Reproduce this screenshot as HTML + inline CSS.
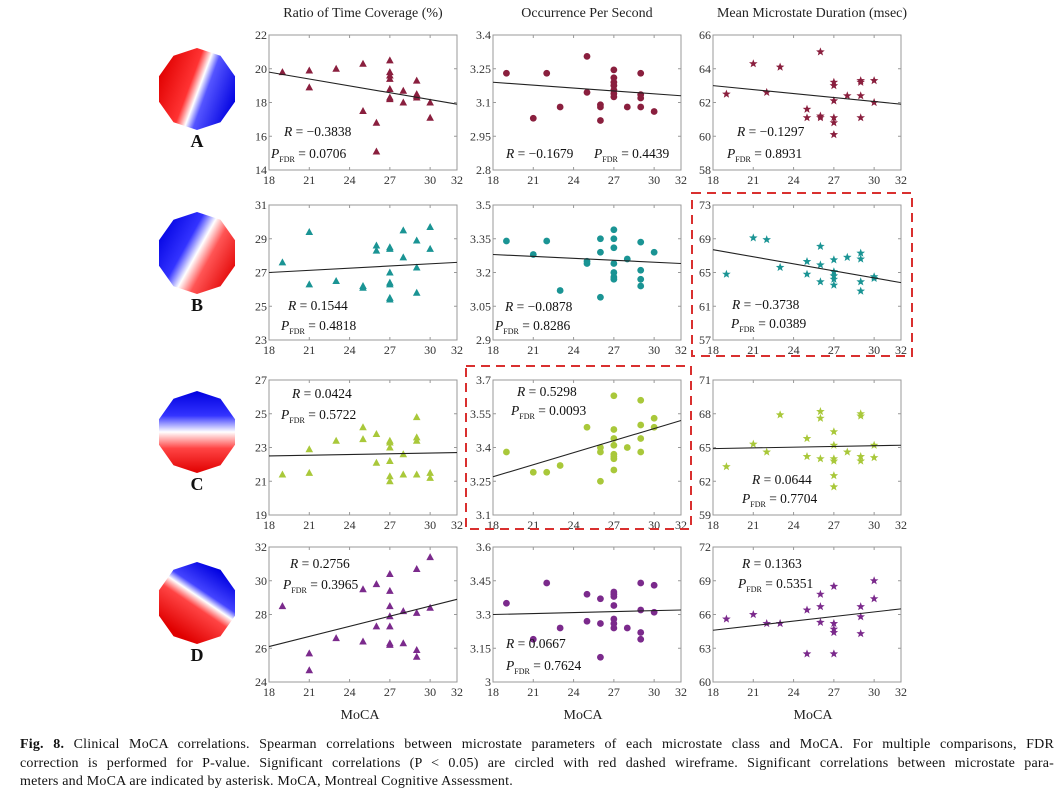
<!DOCTYPE html>
<html><head><meta charset="utf-8"><style>
html,body{margin:0;padding:0;background:#fff;}
svg{display:block;font-family:"Liberation Serif",serif;}
#cap{position:absolute;left:20px;top:736px;width:1034px;font-family:"Liberation Serif",serif;font-size:14px;letter-spacing:0.2px;line-height:18.5px;color:#111;}
#cap div{white-space:nowrap;}
#cap .j{text-align:justify;text-align-last:justify;}
</style></head><body>
<svg id="fig" width="1061" height="794" viewBox="0 0 1061 794" xmlns="http://www.w3.org/2000/svg">
<defs>
<linearGradient id="gA" x1="0" y1="0.3" x2="1" y2="0.7"><stop offset="0" stop-color="#e00000"/><stop offset="0.4" stop-color="#f33"/><stop offset="0.52" stop-color="#fff"/><stop offset="0.62" stop-color="#55f"/><stop offset="1" stop-color="#0000e0"/></linearGradient>
<linearGradient id="gB" x1="0" y1="0.2" x2="1" y2="0.8"><stop offset="0" stop-color="#0000e0"/><stop offset="0.35" stop-color="#33f"/><stop offset="0.5" stop-color="#fff"/><stop offset="0.65" stop-color="#f55"/><stop offset="1" stop-color="#e00000"/></linearGradient>
<linearGradient id="gC" x1="0" y1="0" x2="0" y2="1"><stop offset="0" stop-color="#0000e0"/><stop offset="0.3" stop-color="#33f"/><stop offset="0.5" stop-color="#fff"/><stop offset="0.7" stop-color="#f44"/><stop offset="1" stop-color="#e00000"/></linearGradient>
<linearGradient id="gD" x1="0.8" y1="0.1" x2="0.3" y2="0.9"><stop offset="0" stop-color="#0000e0"/><stop offset="0.35" stop-color="#44f"/><stop offset="0.45" stop-color="#fff"/><stop offset="0.58" stop-color="#f44"/><stop offset="1" stop-color="#e00000"/></linearGradient>
</defs>
<g id="plots"></g>
<text x="363" y="17" font-size="14" text-anchor="middle" fill="#222">Ratio of Time Coverage (%)</text>
<text x="587" y="17" font-size="14" text-anchor="middle" fill="#222">Occurrence Per Second</text>
<text x="812" y="17" font-size="14" text-anchor="middle" fill="#222">Mean Microstate Duration (msec)</text>
<text x="360" y="719" font-size="14" text-anchor="middle" fill="#222">MoCA</text>
<text x="583" y="719" font-size="14" text-anchor="middle" fill="#222">MoCA</text>
<text x="813" y="719" font-size="14" text-anchor="middle" fill="#222">MoCA</text>
<rect x="692" y="193" width="220" height="163" fill="none" stroke="#d9302f" stroke-width="2" stroke-dasharray="9,6"/>
<rect x="466" y="366" width="225" height="163" fill="none" stroke="#d9302f" stroke-width="2" stroke-dasharray="9,6"/>
</svg>
<div id="cap">
<div class="j"><b>Fig. 8.</b> Clinical MoCA correlations. Spearman correlations between microstate parameters of each microstate class and MoCA. For multiple comparisons, FDR</div>
<div class="j">correction is performed for P-value. Significant correlations (P &lt; 0.05) are circled with red dashed wireframe. Significant correlations between microstate para-</div>
<div>meters and MoCA are indicated by asterisk. MoCA, Montreal Cognitive Assessment.</div>
</div>
<script>
const xTicks=[18,21,24,27,30,32];
const rowLabels=["A","B","C","D"];
const colNames=["coverage","occurrence","duration"];
const rowColors=["#8a1f3e","#1a9494","#a9c83a","#7b2a8c"];
const yTicksA1=[14,16,18,20,22], yTicksA2=[2.8,2.95,3.1,3.25,3.4], yTicksA3=[58,60,62,64,66];
const yTicksB1=[23,25,27,29,31], yTicksB2=[2.9,3.05,3.2,3.35,3.5], yTicksB3=[57,61,65,69,73];
const yTicksC1=[19,21,23,25,27], yTicksC2=[3.1,3.25,3.4,3.55,3.7], yTicksC3=[59,62,65,68,71];
const yTicksD1=[24,26,28,30,32], yTicksD2=[3,3.15,3.3,3.45,3.6], yTicksD3=[60,63,66,69,72];
const xA1=[19,21,21,23,25,25,26,26,27,27,27,27,27,27,27,28,28,29,29,29,29,30,30];
const yA1=[19.8,19.9,18.9,20,20.3,17.5,16.8,15.1,20.5,19.8,19.6,19.4,18.8,18.3,18.2,18.7,18,19.3,18.5,18.4,18.3,18,17.1];
const xA2=[19,21,22,23,25,25,26,26,26,27,27,27,27,27,27,27,28,29,29,29,29,30];
const yA2=[3.23,3.03,3.23,3.08,3.305,3.145,3.09,3.08,3.02,3.245,3.21,3.19,3.175,3.155,3.14,3.125,3.08,3.23,3.135,3.12,3.08,3.06];
const xA3=[19,21,22,23,25,25,26,26,26,27,27,27,27,27,27,28,29,29,29,29,30,30];
const yA3=[62.5,64.3,62.6,64.1,61.6,61.1,65,61.2,61.1,63.2,63,62.1,61.1,60.8,60.1,62.4,63.3,63.2,62.4,61.1,63.3,62];
const xB1=[19,21,21,23,25,25,26,26,27,27,27,27,27,27,27,28,28,29,29,29,30,30];
const yB1=[27.6,29.4,26.3,26.5,26.2,26.1,28.6,28.3,28.5,28.4,27,26.4,26.3,25.5,25.4,29.5,27.9,28.9,27.3,25.8,29.7,28.4];
const xB2=[19,21,22,23,25,25,26,26,26,27,27,27,27,27,27,27,28,29,29,29,29,30];
const yB2=[3.34,3.28,3.34,3.12,3.25,3.24,3.35,3.29,3.09,3.39,3.35,3.31,3.24,3.2,3.18,3.17,3.26,3.335,3.21,3.17,3.14,3.29];
const xB3=[19,21,22,23,25,25,26,26,26,27,27,27,27,27,28,29,29,29,29,30,30];
const yB3=[64.8,69.1,68.9,65.6,66.3,64.8,68.1,65.9,63.9,66.5,65.1,64.6,64.2,63.5,66.8,67.3,66.6,63.9,62.8,64.5,64.3];
const xC1=[19,21,21,23,25,25,26,26,27,27,27,27,27,27,28,28,29,29,29,29,30,30];
const yC1=[21.4,22.9,21.5,23.4,24.2,23.5,23.8,22.1,23.4,23.3,23,22.2,21.3,21,22.6,21.4,24.8,23.6,23.4,21.4,21.5,21.2];
const xC2=[19,21,22,23,25,26,26,26,27,27,27,27,27,27,27,27,28,29,29,29,29,30,30];
const yC2=[3.38,3.29,3.29,3.32,3.49,3.4,3.38,3.25,3.63,3.48,3.44,3.41,3.37,3.36,3.35,3.3,3.4,3.61,3.5,3.44,3.38,3.53,3.49];
const xC3=[19,21,22,23,25,25,26,26,26,27,27,27,27,27,27,28,29,29,29,29,30,30];
const yC3=[63.3,65.3,64.6,67.9,65.8,64.2,68.2,67.6,64,66.4,65.2,64,63.8,62.5,61.5,64.6,68,67.8,64.2,63.8,65.2,64.1];
const xD1=[19,21,21,23,25,25,26,26,27,27,27,27,27,27,27,28,28,29,29,29,29,30,30];
const yD1=[28.5,25.7,24.7,26.6,29.5,26.4,29.8,27.3,30.4,29.4,28.5,27.9,27.3,26.3,26.2,28.2,26.3,30.7,28.1,25.9,25.5,31.4,28.4];
const xD2=[19,21,22,23,25,25,26,26,26,27,27,27,27,27,27,27,28,29,29,29,29,30,30];
const yD2=[3.35,3.19,3.44,3.24,3.39,3.27,3.37,3.26,3.11,3.4,3.39,3.38,3.34,3.28,3.26,3.24,3.24,3.44,3.32,3.22,3.19,3.43,3.31];
const xD3=[19,21,22,23,25,25,26,26,26,27,27,27,27,27,29,29,29,30,30];
const yD3=[65.6,66,65.2,65.2,66.4,62.5,67.8,66.7,65.3,68.5,65.2,64.7,64.4,62.5,66.7,65.8,64.3,69,67.4];
const fitStart=[19.8,3.19,63,27,3.28,67.7,22.5,3.27,64.9,26.1,3.3,64.6];
const fitEnd=[17.9,3.13,61.9,27.6,3.24,63.8,22.7,3.52,65.2,28.9,3.32,66.5];
const rValues=["−0.3838","−0.1679","−0.1297","0.1544","−0.0878","−0.3738","0.0424","0.5298","0.0644","0.2756","0.0667","0.1363"];
const pValues=["0.0706","0.4439","0.8931","0.4818","0.8286","0.0389","0.5722","0.0093","0.7704","0.3965","0.7624","0.5351"];

const NS="http://www.w3.org/2000/svg";
const root=document.getElementById('plots');
function mk(tag,attrs,parent){const e=document.createElementNS(NS,tag);for(const k in attrs)e.setAttribute(k,attrs[k]);(parent||root).appendChild(e);return e;}
const colX=[269,493,713], colW=188;
const rowY=[35,205,380,547], rowH=135;
const yTickSets=[yTicksA1,yTicksA2,yTicksA3,yTicksB1,yTicksB2,yTicksB3,yTicksC1,yTicksC2,yTicksC3,yTicksD1,yTicksD2,yTicksD3];
const xs=[xA1,xA2,xA3,xB1,xB2,xB3,xC1,xC2,xC3,xD1,xD2,xD3];
const ys=[yA1,yA2,yA3,yB1,yB2,yB3,yC1,yC2,yC3,yD1,yD2,yD3];
const annPos=[[15,96,2,118],[13,118,null,null],[24,96,14,118],[19,100,12,120],[12,101,2,120],[19,99,18,118],[23,13,12,34],[24,11,18,30],[39,99,29,118],[21,16,14,37],[13,96,13,118],[29,16,25,36]];
const shapes=["tri","circ","star"];
const topoY=[89,253,432,603];
const grads=["gA","gB","gC","gD"];

function star(cx,cy,r){let p=[];for(let i=0;i<10;i++){const a=-Math.PI/2+i*Math.PI/5;const rr=i%2?r*0.42:r;p.push((cx+rr*Math.cos(a)).toFixed(1)+","+(cy+rr*Math.sin(a)).toFixed(1));}return p.join(" ");}

for(let r=0;r<4;r++){
  const tg=mk('g',{});
  
  
  let pts=[];for(let i=0;i<10;i++){const a=Math.PI/10+i*Math.PI/5;pts.push((197+40*Math.cos(a)).toFixed(1)+","+(topoY[r]+41*Math.sin(a)).toFixed(1));}
  mk('polygon',{points:pts.join(" "),fill:"url(#"+grads[r]+")"},tg);
  const lab=mk('text',{x:197,y:topoY[r]+58,'font-size':18,'font-weight':'bold','text-anchor':'middle',fill:'#111'});
  
  
  lab.textContent=rowLabels[r];
  for(let c=0;c<3;c++){
    const k=r*3+c, x0=colX[c], y0=rowY[r];
    const yt=yTickSets[k], ymin=yt[0], ymax=yt[yt.length-1];
    const sx=v=>x0+(v-18)/(32-18)*colW;
    const sy=v=>y0+rowH-(v-ymin)/(ymax-ymin)*rowH;
    const g=mk('g',{});
    
    
    const box=mk('rect',{x:x0,y:y0,width:colW,height:rowH,fill:'#fff',stroke:'#999','stroke-width':1},g);
    
    
    xTicks.forEach(t=>{
      const tx=sx(t);
      mk('line',{x1:tx,y1:y0+rowH,x2:tx,y2:y0+rowH-3,stroke:'#999'},g);
      mk('line',{x1:tx,y1:y0,x2:tx,y2:y0+3,stroke:'#999'},g);
      const tl=mk('text',{x:tx,y:y0+rowH+14,'font-size':12,'text-anchor':'middle',fill:'#333'},g);
      
      
      tl.textContent=t;
    });
    yt.forEach(t=>{
      const ty=sy(t);
      mk('line',{x1:x0,y1:ty,x2:x0+3,y2:ty,stroke:'#999'},g);
      mk('line',{x1:x0+colW,y1:ty,x2:x0+colW-3,y2:ty,stroke:'#999'},g);
      const tl=mk('text',{x:x0-2,y:ty+4,'font-size':12,'text-anchor':'end',fill:'#333'},g);
      
      
      tl.textContent=t;
    });
    const col=rowColors[r];
    xs[k].forEach((xv,i)=>{
      const px=sx(xv), py=sy(ys[k][i]);
      let m;
      if(shapes[c]==="tri") m=mk('polygon',{points:`${px},${py-4} ${px-3.8},${py+3} ${px+3.8},${py+3}`,fill:col},g);
      else if(shapes[c]==="circ") m=mk('circle',{cx:px,cy:py,r:3.4,fill:col},g);
      else m=mk('polygon',{points:star(px,py,4.5),fill:col},g);
      
      
    });
    const fl=mk('line',{x1:sx(18),y1:sy(fitStart[k]),x2:sx(32),y2:sy(fitEnd[k]),stroke:'#222','stroke-width':1.1},g);
    
    
    const a=annPos[k];
    const rt=mk('text',{x:x0+a[0],y:y0+a[1]+5,'font-size':13.5,fill:'#111'},g);
    
    
    rt.innerHTML='<tspan font-style="italic">R</tspan> = '+rValues[k];
    let pt;
    if(a[2]===null){
      pt=mk('text',{x:x0+a[0]+88,y:y0+a[1]+5,'font-size':13.5,fill:'#111'},g);
    } else {
      pt=mk('text',{x:x0+a[2],y:y0+a[3]+5,'font-size':13.5,fill:'#111'},g);
    }
    
    
    pt.innerHTML='<tspan font-style="italic">P</tspan><tspan font-size="8" dy="4">FDR</tspan><tspan dy="-4"> = '+pValues[k]+'</tspan>';
  }
}
</script>
</body></html>
